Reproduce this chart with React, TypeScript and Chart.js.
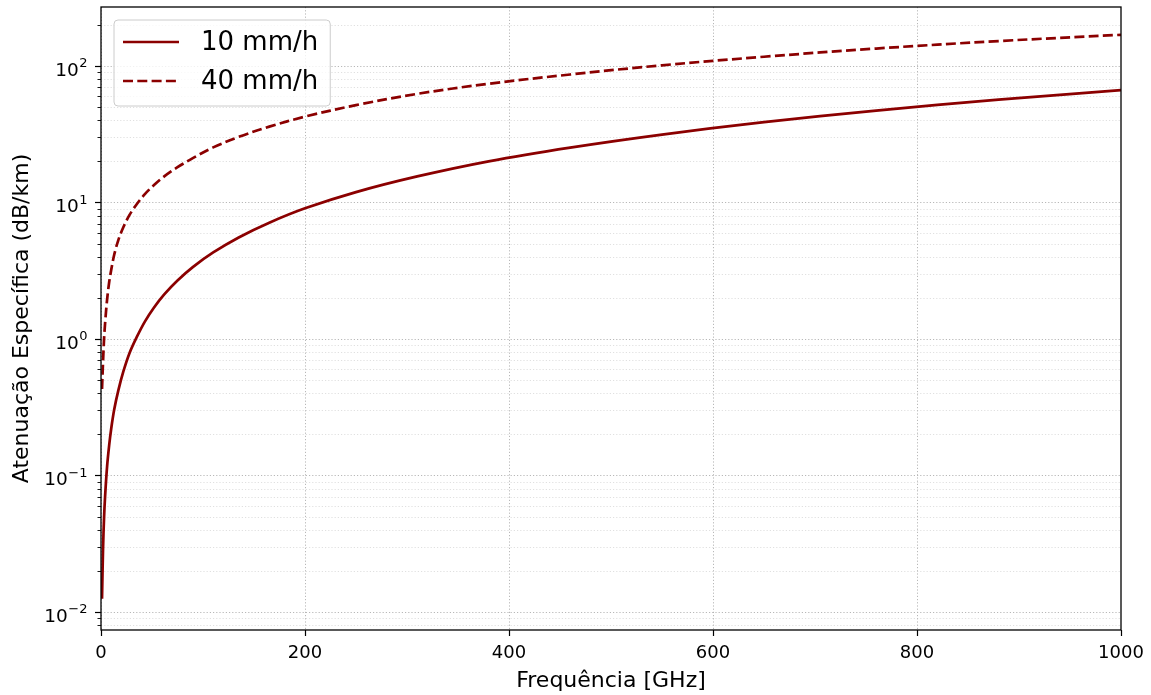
import React, { useEffect, useRef } from "react";
import { Chart, registerables } from "chart.js";

Chart.register(...registerables);

// ---- data ----
const frequencies = [1, 2, 3, 4, 6, 8, 10, 13, 17, 22, 28, 35, 43, 52, 62, 75, 90, 110, 135, 165, 200, 250, 310, 380, 460, 550, 650, 760, 880, 1000];
const rain10 = [0.0125, 0.029, 0.049, 0.07, 0.117, 0.166, 0.22, 0.305, 0.42, 0.58, 0.79, 1.03, 1.34, 1.7, 2.12, 2.68, 3.36, 4.3, 5.54, 7.1, 9.05, 11.9, 15.5, 20.0, 25.2, 31.4, 38.7, 47.1, 56.6, 66.4];
const rain40 = [0.43, 0.68, 1.0, 1.3, 1.95, 2.6, 3.2, 4.15, 5.3, 6.6, 8.1, 9.7, 11.5, 13.4, 15.5, 18.1, 21.1, 25.3, 30.2, 35.9, 42.5, 51.6, 62.4, 74, 86.5, 101, 116.7, 134, 152, 169];
const seriesLabels = ["10 mm/h", "40 mm/h"];
const xTickValues = [0, 200, 400, 600, 800, 1000];
const yMajorValues = [0.01, 0.1, 1, 10, 100];
const yTickBase = "10";
const yTickExponents = ["−2", "−1", "0", "1", "2"];
const yMinorValues = [0.008, 0.009, 0.02, 0.03, 0.04, 0.05, 0.06, 0.07, 0.08, 0.09, 0.2, 0.3, 0.4, 0.5, 0.6, 0.7, 0.8, 0.9, 2, 3, 4, 5, 6, 7, 8, 9, 20, 30, 40, 50, 60, 70, 80, 90, 200];
const xTitle = "Frequência [GHz]";
const yTitle = "Atenuação Específica (dB/km)";

const FONT = "'DejaVu Sans', 'Liberation Sans', sans-serif";
const LINE_COLOR = "#8b0000";

const framePlugin = {
  id: "frame",
  beforeDatasetsDraw(chart: any) {
    const { ctx, chartArea, scales } = chart;
    const { left, right, top, bottom } = chartArea;
    const x = scales.x;
    const y = scales.y;
    ctx.save();
    ctx.beginPath();
    ctx.rect(left, top, right - left, bottom - top);
    ctx.clip();
    ctx.setLineDash([1.2, 2]);
    ctx.lineWidth = 0.7;
    ctx.strokeStyle = "#d3d3d3";
    yMinorValues.forEach((v) => {
      const p = Math.round(y.getPixelForValue(v)) + 0.5;
      ctx.beginPath();
      ctx.moveTo(left, p);
      ctx.lineTo(right, p);
      ctx.stroke();
    });
    ctx.lineWidth = 0.9;
    ctx.strokeStyle = "#b0b0b0";
    yMajorValues.forEach((v) => {
      const p = Math.round(y.getPixelForValue(v)) + 0.5;
      ctx.beginPath();
      ctx.moveTo(left, p);
      ctx.lineTo(right, p);
      ctx.stroke();
    });
    xTickValues.forEach((v) => {
      const p = Math.round(x.getPixelForValue(v)) + 0.5;
      ctx.beginPath();
      ctx.moveTo(p, top);
      ctx.lineTo(p, bottom);
      ctx.stroke();
    });
    ctx.restore();
  },
  afterDatasetsDraw(chart: any) {
    const { ctx, chartArea, scales } = chart;
    const { left, right, top, bottom } = chartArea;
    const x = scales.x;
    const y = scales.y;
    ctx.save();
    ctx.setLineDash([]);
    ctx.strokeStyle = "#000";
    ctx.lineWidth = 1.2;
    yMajorValues.forEach((v) => {
      const p = Math.round(y.getPixelForValue(v)) + 0.5;
      ctx.beginPath();
      ctx.moveTo(left - 6, p);
      ctx.lineTo(left, p);
      ctx.stroke();
    });
    xTickValues.forEach((v) => {
      const p = Math.round(x.getPixelForValue(v)) + 0.5;
      ctx.beginPath();
      ctx.moveTo(p, bottom);
      ctx.lineTo(p, bottom + 6);
      ctx.stroke();
    });
    ctx.lineWidth = 0.9;
    yMinorValues.forEach((v) => {
      const p = Math.round(y.getPixelForValue(v)) + 0.5;
      ctx.beginPath();
      ctx.moveTo(left - 3.5, p);
      ctx.lineTo(left, p);
      ctx.stroke();
    });
    ctx.lineWidth = 1.3;
    ctx.strokeRect(left, top, right - left, bottom - top);

    // y tick labels: base 10 with raised exponent
    ctx.fillStyle = "#000";
    ctx.textAlign = "left";
    ctx.textBaseline = "alphabetic";
    const rightEdge = left - 14;
    yMajorValues.forEach((v, i) => {
      const p = y.getPixelForValue(v);
      ctx.font = `18.5px ${FONT}`;
      const wb = ctx.measureText(yTickBase).width;
      ctx.font = `13px ${FONT}`;
      const we = ctx.measureText(yTickExponents[i]).width;
      const start = rightEdge - wb - we;
      ctx.font = `18.5px ${FONT}`;
      ctx.fillText(yTickBase, start, p + 10);
      ctx.font = `13px ${FONT}`;
      ctx.fillText(yTickExponents[i], start + wb + 0.5, p + 1.5);
    });

    // legend
    const fontSize = 26;
    ctx.font = `${fontSize}px ${FONT}`;
    const datasets = chart.data.datasets;
    const textW = Math.max(...datasets.map((d: any) => ctx.measureText(d.label).width));
    const bx = left + 13;
    const by = top + 13;
    const bw = 87 + textW + 12;
    const bh = 86;
    const r = 4;
    ctx.beginPath();
    ctx.moveTo(bx + r, by);
    ctx.lineTo(bx + bw - r, by);
    ctx.quadraticCurveTo(bx + bw, by, bx + bw, by + r);
    ctx.lineTo(bx + bw, by + bh - r);
    ctx.quadraticCurveTo(bx + bw, by + bh, bx + bw - r, by + bh);
    ctx.lineTo(bx + r, by + bh);
    ctx.quadraticCurveTo(bx, by + bh, bx, by + bh - r);
    ctx.lineTo(bx, by + r);
    ctx.quadraticCurveTo(bx, by, bx + r, by);
    ctx.closePath();
    ctx.fillStyle = "rgba(255,255,255,0.8)";
    ctx.fill();
    ctx.strokeStyle = "#cccccc";
    ctx.lineWidth = 1;
    ctx.stroke();
    datasets.forEach((d: any, i: number) => {
      const cy = by + 22 + i * 39;
      ctx.strokeStyle = d.borderColor;
      ctx.lineWidth = d.borderWidth;
      ctx.setLineDash(d.borderDash || []);
      ctx.beginPath();
      ctx.moveTo(bx + 9, cy);
      ctx.lineTo(bx + 65, cy);
      ctx.stroke();
      ctx.setLineDash([]);
      ctx.fillStyle = "#000";
      ctx.textAlign = "left";
      ctx.textBaseline = "middle";
      ctx.fillText(d.label, bx + 87, cy + 1);
    });
    ctx.restore();
  },
};

export default function App() {
  const canvasRef = useRef<HTMLCanvasElement | null>(null);

  useEffect(() => {
    document.body.style.margin = "0";
    const canvas = canvasRef.current;
    if (!canvas) return;
    const chart = new Chart(canvas, {
      type: "line",
      data: {
        datasets: [
          {
            label: seriesLabels[0],
            data: frequencies.map((f, i) => ({ x: f, y: rain10[i] })),
            borderColor: LINE_COLOR,
            borderWidth: 2.7,
            pointRadius: 0,
            tension: 0.35,
            fill: false,
          },
          {
            label: seriesLabels[1],
            data: frequencies.map((f, i) => ({ x: f, y: rain40[i] })),
            borderColor: LINE_COLOR,
            borderWidth: 2.7,
            borderDash: [10, 4.3],
            pointRadius: 0,
            tension: 0.35,
            fill: false,
          },
        ],
      },
      options: {
        responsive: false,
        animation: false,
        devicePixelRatio: 1,
        layout: { padding: { top: 7, right: 30, left: 0, bottom: 0 } },
        plugins: {
          legend: { display: false },
          tooltip: { enabled: false },
        },
        scales: {
          x: {
            type: "linear",
            min: 0,
            max: 1000,
            afterFit: (s: any) => {
              s.height = 65;
              s.paddingLeft = 0;
              s.paddingRight = 0;
            },
            afterBuildTicks: (s: any) => {
              s.ticks = xTickValues.map((v) => ({ value: v }));
            },
            grid: { display: false, drawTicks: false },
            border: { display: false },
            ticks: {
              autoSkip: false,
              maxRotation: 0,
              padding: 13,
              color: "#000",
              font: { family: FONT, size: 18 },
              callback: (v: any) => String(v),
            },
            title: {
              display: true,
              text: xTitle,
              color: "#000",
              font: { family: FONT, size: 22 },
              padding: { top: 0, bottom: 1 },
            },
          },
          y: {
            type: "logarithmic",
            min: 0.00738,
            max: 270,
            afterFit: (s: any) => {
              s.width = 101;
              s.paddingTop = 0;
              s.paddingBottom = 0;
            },
            grid: { display: false, drawTicks: false },
            border: { display: false },
            ticks: { display: false },
            title: {
              display: true,
              text: yTitle,
              color: "#000",
              font: { family: FONT, size: 22 },
              padding: { top: 9, bottom: 0 },
            },
          },
        },
      } as any,
      plugins: [framePlugin],
    });
    return () => chart.destroy();
  }, []);

  return (
    <div style={{ position: "absolute", left: 0, top: 0, width: 1151, height: 695, background: "#fff" }}>
      <canvas ref={canvasRef} width={1151} height={695} style={{ display: "block" }} />
    </div>
  );
}
